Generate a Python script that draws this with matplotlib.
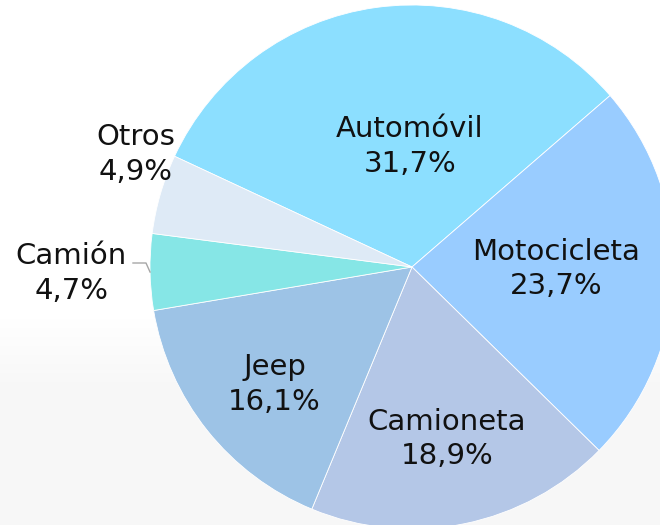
import numpy as np
import matplotlib.pyplot as plt

# vehicle share data (clockwise from Automóvil)
categories = ['Automóvil', 'Motocicleta', 'Camioneta', 'Jeep', 'Camión', 'Otros']
shares = [31.7, 23.7, 18.9, 16.1, 4.7, 4.9]
colors = ['#8CDFFF', '#99CCFF', '#B4C7E7', '#9DC3E6', '#86E6E6', '#DEEAF6']

# label placement in units of the radius (dist, angle nudge in degrees)
label_dist = [0.46, 0.55, 0.67, 0.69, 1.30, 1.14]
label_nudge = [-7, 1, 0, 2, 0, -6]

W, H = 660, 525
fig = plt.figure(figsize=(W / 100, H / 100), dpi=100)

# faint grey wash on the lower part of the background
bg = fig.add_axes([0, 0, 1, 1], zorder=0)
grad = np.ones((H, 1))
rows = np.arange(H)
grad[rows > 310, 0] = 1 - 0.035 * np.clip((rows[rows > 310] - 310) / 80, 0, 1)
bg.imshow(grad, cmap='gray', vmin=0, vmax=1, aspect='auto', extent=[0, 1, 0, 1])
bg.axis('off')

ax = fig.add_axes([0, 0, 1, 1], zorder=1)
ax.patch.set_alpha(0)
cx, cy, r = 412, H - 267, 262
wedges, _ = ax.pie(shares, colors=colors, startangle=155, counterclock=False,
                   center=(cx, cy), radius=r,
                   wedgeprops=dict(edgecolor='white', linewidth=0.6))
ax.set_xlim(0, W)
ax.set_ylim(0, H)
ax.set_aspect('auto')
ax.axis('off')

for w, cat, val, d, nd in zip(wedges, categories, shares, label_dist, label_nudge):
    mid = np.deg2rad((w.theta1 + w.theta2) / 2 + nd)
    x = cx + d * r * np.cos(mid)
    y = cy + d * r * np.sin(mid)
    txt = f"{cat}\n{val:.1f}%".replace('.', ',')
    ax.text(x, y, txt, ha='center', va='center', fontsize=21,
            linespacing=1.3, color='#111111', family='DejaVu Sans')

# leader line for the small Camión slice
w = wedges[categories.index('Camión')]
mid = np.deg2rad((w.theta1 + w.theta2) / 2)
ex, ey = cx + r * np.cos(mid), cy + r * np.sin(mid)
ax.plot([133, 146, ex], [H - 263, H - 263, ey], color='#A6A6A6', lw=1)

fig.savefig('out.png', dpi=100)
